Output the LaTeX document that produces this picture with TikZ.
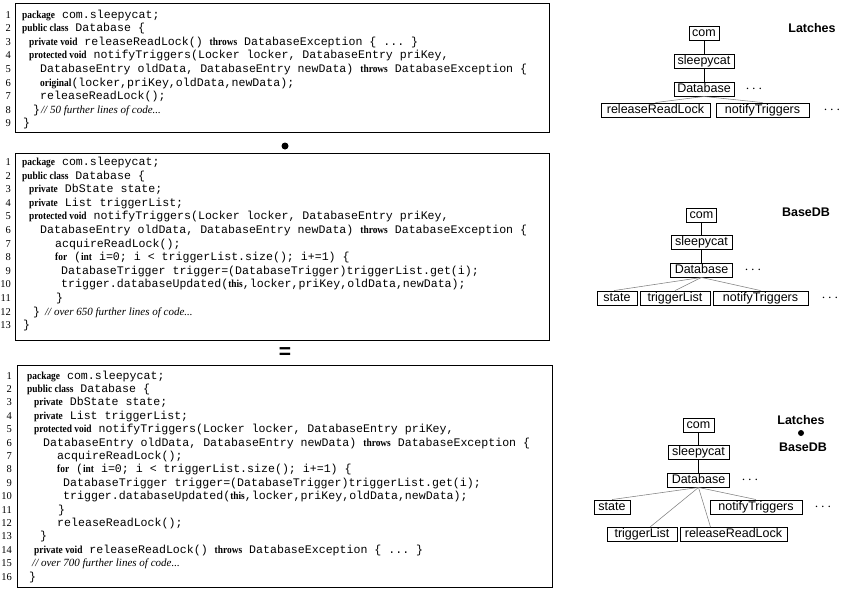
\documentclass[tikz,border=0pt]{standalone}
\usepackage{fontspec}
\setmainfont{Liberation Serif}
\setsansfont{Liberation Sans}
\setmonofont{Liberation Mono}
\newfontfamily\kwfont{Liberation Serif}[FakeStretch=0.87]
\usetikzlibrary{calc}
\newcommand{\kw}[1]{{\kwfont\bfseries\fontsize{10.8}{12}\selectfont #1}}
\newcommand{\cmt}[1]{{\rmfamily\itshape\fontsize{11}{12}\selectfont #1}}
\begin{document}
\begin{tikzpicture}[x=1pt,y=-1pt,
  code/.style={anchor=base west, inner sep=0pt, font=\ttfamily\fontsize{11.6}{13}\selectfont},
  lnum/.style={anchor=base east, inner sep=0pt, font=\rmfamily\fontsize{10.5}{12}\selectfont},
  codebox/.style={draw, line width=0.9pt},
  tn/.style={draw, line width=0.7pt, font=\sffamily\fontsize{12.5}{14}\selectfont, inner xsep=3pt, inner ysep=1.3pt, text height=9pt, text depth=2.6pt},
  lbl/.style={font=\sffamily\bfseries\fontsize{12.5}{14}\selectfont, inner sep=0pt},
  dotsn/.style={inner sep=0pt, font=\fontsize{14}{14}\selectfont},
  tedge/.style={line width=0.7pt},
  gedge/.style={line width=0.55pt, black!50},
  bigdot/.style={circle, fill=black, inner sep=0pt, minimum size=7pt}]
\useasboundingbox (0,0) rectangle (841,589);

% ---------- code box 1 ----------
\draw[codebox] (15,3) rectangle (549,132);
\foreach \i in {1,...,9} \node[lnum] (na\i) at (11,{18.3+13.55*(\i-1)}) {\i};
\node[code] (a1) at (22,18.3) {\kw{package} com.sleepycat;};
\node[code] (a2) at (22,31.85) {\kw{public class} Database \{};
\node[code] (a3) at (29,45.4) {\kw{private void} releaseReadLock() \kw{throws} DatabaseException \{ ... \}};
\node[code] (a4) at (29,58.95) {\kw{protected void} notifyTriggers(Locker locker, DatabaseEntry priKey,};
\node[code] (a5) at (40,72.5) {DatabaseEntry oldData, DatabaseEntry newData) \kw{throws} DatabaseException \{};
\node[code] (a6) at (40,86.05) {\kw{original}(locker,priKey,oldData,newData);};
\node[code] (a7) at (40,99.6) {releaseReadLock();};
\node[code] (a8) at (33,113.15) {\}\hspace{1pt}\cmt{// 50 further lines of code...}};
\node[code] (a9) at (23,126.7) {\}};

\node[bigdot] (bul) at (285,146) {};

% ---------- code box 2 ----------
\draw[codebox] (15,153) rectangle (549,340);
\foreach \i in {1,...,13} \node[lnum] (nb\i) at (11,{165.5+13.6*(\i-1)}) {\i};
\node[code] (b1) at (22,165.5) {\kw{package} com.sleepycat;};
\node[code] (b2) at (22,179.1) {\kw{public class} Database \{};
\node[code] (b3) at (29,192.7) {\kw{private} DbState state;};
\node[code] (b4) at (29,206.3) {\kw{private} List triggerList;};
\node[code] (b5) at (29,219.9) {\kw{protected void} notifyTriggers(Locker locker, DatabaseEntry priKey,};
\node[code] (b6) at (40,233.5) {DatabaseEntry oldData, DatabaseEntry newData) \kw{throws} DatabaseException \{};
\node[code] (b7) at (55,247.1) {acquireReadLock();};
\node[code] (b8) at (55,260.7) {\kw{for} (\kw{int} i=0; i < triggerList.size(); i+=1) \{};
\node[code] (b9) at (61,274.3) {DatabaseTrigger trigger=(DatabaseTrigger)triggerList.get(i);};
\node[code] (b10) at (61,287.9) {trigger.databaseUpdated(\kw{this},locker,priKey,oldData,newData);};
\node[code] (b11) at (56,301.5) {\}};
\node[code] (b12) at (33,315.1) {\}\hspace{5pt}\cmt{// over 650 further lines of code...}};
\node[code] (b13) at (23,328.7) {\}};

\node[inner sep=0pt, font=\sffamily\bfseries\fontsize{21}{21}\selectfont] (eq) at (285,353) {=};

% ---------- code box 3 ----------
\draw[codebox] (17,365) rectangle (552,587);
\foreach \i in {1,...,16} \node[lnum] (nc\i) at (12,{379+13.4*(\i-1)}) {\i};
\node[code] (c1) at (27,379) {\kw{package} com.sleepycat;};
\node[code] (c2) at (27,392.4) {\kw{public class} Database \{};
\node[code] (c3) at (34,405.8) {\kw{private} DbState state;};
\node[code] (c4) at (34,419.2) {\kw{private} List triggerList;};
\node[code] (c5) at (34,432.6) {\kw{protected void} notifyTriggers(Locker locker, DatabaseEntry priKey,};
\node[code] (c6) at (43,446) {DatabaseEntry oldData, DatabaseEntry newData) \kw{throws} DatabaseException \{};
\node[code] (c7) at (57,459.4) {acquireReadLock();};
\node[code] (c8) at (57,472.8) {\kw{for} (\kw{int} i=0; i < triggerList.size(); i+=1) \{};
\node[code] (c9) at (63,486.2) {DatabaseTrigger trigger=(DatabaseTrigger)triggerList.get(i);};
\node[code] (c10) at (63,499.6) {trigger.databaseUpdated(\kw{this},locker,priKey,oldData,newData);};
\node[code] (c11) at (58,513) {\}};
\node[code] (c12) at (57,526.4) {releaseReadLock();};
\node[code] (c13) at (40,539.8) {\}};
\node[code] (c14) at (34,553.2) {\kw{private void} releaseReadLock() \kw{throws} DatabaseException \{ ... \}};
\node[code] (c15) at (32,566.6) {\cmt{// over 700 further lines of code...}};
\node[code] (c16) at (29,580) {\}};

% ---------- tree 1 ----------
\node[tn, minimum width=30pt] (com1) at (704,33) {com};
\node[tn, minimum width=60pt] (sc1) at (704,61) {sleepycat};
\node[tn, minimum width=60pt] (db1) at (704,89) {Database};
\node[dotsn] (d1a) at (754,89) {$\cdots$};
\node[tn, minimum width=109pt] (rrl1) at (655.5,110) {releaseReadLock};
\node[tn, minimum width=93pt] (nt1) at (762.5,110) {notifyTriggers};
\node[dotsn] (d1b) at (832,110) {$\cdots$};
\node[lbl] (lat1) at (812,28) {Latches};
\draw[tedge] (com1) -- (sc1);
\draw[tedge] (sc1) -- (db1);
\draw[gedge] (db1.south) -- (rrl1.north);
\draw[gedge] (db1.south) -- (nt1.north);

% ---------- tree 2 ----------
\node[tn, minimum width=30pt] (com2) at (701.5,215) {com};
\node[tn, minimum width=61pt] (sc2) at (701.5,242.5) {sleepycat};
\node[tn, minimum width=62pt] (db2) at (701.5,270) {Database};
\node[dotsn] (d2a) at (753,270) {$\cdots$};
\node[tn, minimum width=40pt] (st2) at (617,298) {state};
\node[tn, minimum width=70pt] (tl2) at (675,298) {triggerList};
\node[tn, minimum width=95pt] (nt2) at (760.5,298) {notifyTriggers};
\node[dotsn] (d2b) at (830,298) {$\cdots$};
\node[lbl] (bdb2) at (806,212) {BaseDB};
\draw[tedge] (com2) -- (sc2);
\draw[tedge] (sc2) -- (db2);
\draw[gedge] (db2.south) -- ([xshift=-3pt]st2.north);
\draw[gedge] (db2.south) -- (tl2.north);
\draw[gedge] (db2.south) -- (nt2.north);

% ---------- tree 3 ----------
\node[tn, minimum width=31pt] (com3) at (698.5,425) {com};
\node[tn, minimum width=61pt] (sc3) at (698.5,452.5) {sleepycat};
\node[tn, minimum width=62pt] (db3) at (698.5,480) {Database};
\node[dotsn] (d3a) at (750,480) {$\cdots$};
\node[tn, minimum width=36pt] (st3) at (612,507) {state};
\node[tn, minimum width=92pt] (nt3) at (756,507) {notifyTriggers};
\node[dotsn] (d3b) at (823,507) {$\cdots$};
\node[tn, minimum width=70pt] (tl3) at (642,534.5) {triggerList};
\node[tn, minimum width=107pt] (rrl3) at (733.5,534.5) {releaseReadLock};
\node[lbl] (lat3) at (801,420) {Latches};
\node[bigdot, minimum size=6pt] (dot3) at (801,433) {};
\node[lbl] (bdb3) at (803,447) {BaseDB};
\draw[tedge] (com3) -- (sc3);
\draw[tedge] (sc3) -- (db3);
\draw[gedge] (db3.south) -- (st3.north);
\draw[gedge] (db3.south) -- ([xshift=8pt]tl3.north);
\draw[gedge] (db3.south) -- ([xshift=-23pt]rrl3.north);
\draw[gedge] (db3.south) -- (nt3.north);
\end{tikzpicture}
\end{document}
